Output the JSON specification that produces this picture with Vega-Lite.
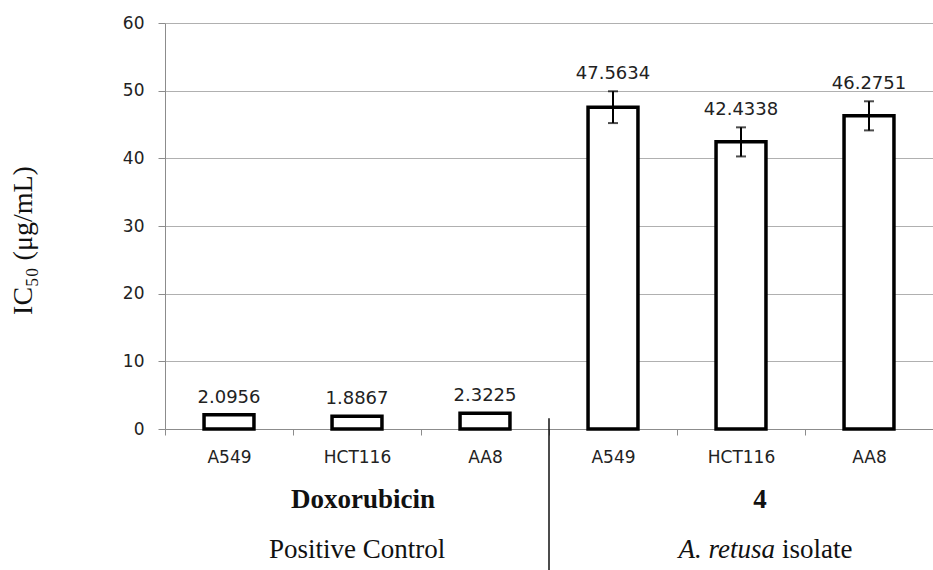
{
  "$schema": "https://vega.github.io/schema/vega-lite/v6.json",
  "width": 768,
  "height": 406,
  "autosize": {"type": "none"},
  "padding": {"left": 165, "top": 23, "right": 0, "bottom": 141},
  "background": "white",
  "config": {"view": {"stroke": null}},
  "datasets": {
    "bars": [
      {"key": "Doxorubicin|A549", "group": "Doxorubicin", "cell": "A549", "ic50": 2.0956, "lower": 2.0956, "upper": 2.0956},
      {"key": "Doxorubicin|HCT116", "group": "Doxorubicin", "cell": "HCT116", "ic50": 1.8867, "lower": 1.8867, "upper": 1.8867},
      {"key": "Doxorubicin|AA8", "group": "Doxorubicin", "cell": "AA8", "ic50": 2.3225, "lower": 2.3225, "upper": 2.3225},
      {"key": "4|A549", "group": "4", "cell": "A549", "ic50": 47.5634, "lower": 45.21, "upper": 49.91},
      {"key": "4|HCT116", "group": "4", "cell": "HCT116", "ic50": 42.4338, "lower": 40.28, "upper": 44.58},
      {"key": "4|AA8", "group": "4", "cell": "AA8", "ic50": 46.2751, "lower": 44.13, "upper": 48.43}
    ]
  },
  "layer": [
    {
      "data": {"name": "bars"},
      "mark": {"type": "bar", "fill": "white", "stroke": "black", "strokeWidth": 3.5, "width": {"band": 0.39}},
      "encoding": {
        "x": {
          "field": "key", "type": "nominal",
          "scale": {"domain": ["Doxorubicin|A549", "Doxorubicin|HCT116", "Doxorubicin|AA8", "4|A549", "4|HCT116", "4|AA8"], "paddingInner": 0, "paddingOuter": 0},
          "axis": {
            "title": null, "labelExpr": "split(datum.label, '|')[1]", "labelAngle": 0,
            "tickBand": "extent", "domainColor": "#8c8c8c", "tickColor": "#8c8c8c", "tickSize": 6,
            "labelPadding": 14, "labelFont": "DejaVu Sans", "labelFontSize": 17, "labelColor": "#222", "grid": false
          }
        },
        "y": {
          "field": "ic50", "type": "quantitative",
          "scale": {"domain": [0, 60], "nice": false, "zero": true},
          "axis": {
            "values": [0, 10, 20, 30, 40, 50, 60], "grid": true, "gridColor": "#b0b0b0", "gridWidth": 1,
            "domainColor": "#8c8c8c", "tickColor": "#8c8c8c", "tickSize": 7, "labelPadding": 14,
            "labelFont": "DejaVu Sans", "labelFontSize": 17, "labelColor": "#222",
            "title": "IC₅₀ (μg/mL)", "titleFont": "Liberation Serif", "titleFontSize": 28, "titleFontWeight": "normal",
            "titleColor": "#111", "titleX": -128, "titleY": 217, "titleAngle": -90
          }
        }
      }
    },
    {
      "data": {"name": "bars"},
      "transform": [{"filter": "datum.group == '4'"}],
      "mark": {"type": "rule", "color": "black", "strokeWidth": 2},
      "encoding": {
        "x": {"field": "key", "type": "nominal"},
        "y": {"field": "lower", "type": "quantitative"},
        "y2": {"field": "upper"}
      }
    },
    {
      "data": {"name": "bars"},
      "transform": [{"filter": "datum.group == '4'"}],
      "mark": {"type": "tick", "color": "black", "thickness": 2, "size": 10},
      "encoding": {
        "x": {"field": "key", "type": "nominal"},
        "y": {"field": "upper", "type": "quantitative"}
      }
    },
    {
      "data": {"name": "bars"},
      "transform": [{"filter": "datum.group == '4'"}],
      "mark": {"type": "tick", "color": "black", "thickness": 2, "size": 10},
      "encoding": {
        "x": {"field": "key", "type": "nominal"},
        "y": {"field": "lower", "type": "quantitative"}
      }
    },
    {
      "data": {"name": "bars"},
      "mark": {"type": "text", "font": "DejaVu Sans", "fontSize": 18, "color": "#222", "baseline": "alphabetic", "dy": -12},
      "encoding": {
        "x": {"field": "key", "type": "nominal"},
        "y": {"field": "upper", "type": "quantitative"},
        "text": {"field": "ic50", "type": "quantitative", "format": ".4f"}
      }
    },
    {
      "data": {"values": [{"key": "4|A549"}]},
      "mark": {"type": "rule", "color": "#111", "strokeWidth": 1.5, "clip": false},
      "encoding": {
        "x": {"field": "key", "type": "nominal", "bandPosition": 0},
        "y": {"datum": 1.6},
        "y2": {"datum": -21}
      }
    },
    {
      "data": {"values": [{"key": "Doxorubicin|HCT116", "t": "Doxorubicin"}]},
      "mark": {"type": "text", "font": "Liberation Serif", "fontSize": 27, "fontWeight": "bold", "color": "#111", "baseline": "middle", "dx": 6},
      "encoding": {"x": {"field": "key", "type": "nominal"}, "y": {"datum": -10.5}, "text": {"field": "t"}}
    },
    {
      "data": {"values": [{"key": "4|HCT116", "t": "4"}]},
      "mark": {"type": "text", "font": "Liberation Serif", "fontSize": 27, "fontWeight": "bold", "color": "#111", "baseline": "middle", "dx": 19},
      "encoding": {"x": {"field": "key", "type": "nominal"}, "y": {"datum": -10.5}, "text": {"field": "t"}}
    },
    {
      "data": {"values": [{"key": "Doxorubicin|HCT116", "t": "Positive Control"}]},
      "mark": {"type": "text", "font": "Liberation Serif", "fontSize": 27, "color": "#111", "baseline": "middle", "dx": 0},
      "encoding": {"x": {"field": "key", "type": "nominal"}, "y": {"datum": -17.9}, "text": {"field": "t"}}
    },
    {
      "data": {"values": [{"key": "4|HCT116", "t": "A. retusa"}]},
      "mark": {"type": "text", "font": "Liberation Serif", "fontSize": 27, "fontStyle": "italic", "color": "#111", "baseline": "middle", "align": "right", "dx": 34},
      "encoding": {"x": {"field": "key", "type": "nominal"}, "y": {"datum": -17.9}, "text": {"field": "t"}}
    },
    {
      "data": {"values": [{"key": "4|HCT116", "t": "isolate"}]},
      "mark": {"type": "text", "font": "Liberation Serif", "fontSize": 27, "color": "#111", "baseline": "middle", "align": "left", "dx": 41},
      "encoding": {"x": {"field": "key", "type": "nominal"}, "y": {"datum": -17.9}, "text": {"field": "t"}}
    }
  ]
}
